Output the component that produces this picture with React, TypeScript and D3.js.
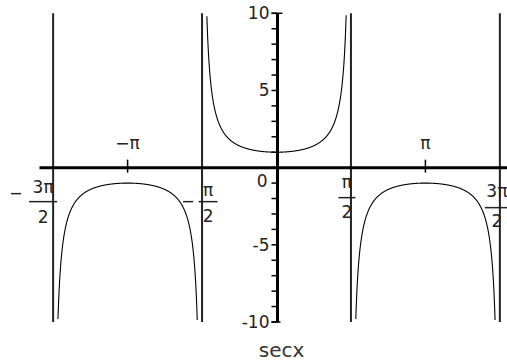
import React from "react";
import * as d3 from "d3";

const W = 507;
const H = 364;
const PI = Math.PI;

// Plot window and the function being drawn
const X_DOMAIN = [-5, 5];
const Y_DOMAIN = [-10, 10];
const FUNCTION_NAME = "secx";
const sec = (t: number) => 1 / Math.cos(t);

// Vertical asymptotes of sec x inside the window
const ASYMPTOTES = [-3 * PI / 2, -PI / 2, PI / 2, 3 * PI / 2];
// Branch intervals between asymptotes that are plotted
const BRANCHES: [number, number][] = [
  [-3 * PI / 2, -PI / 2],
  [-PI / 2, PI / 2],
  [PI / 2, 3 * PI / 2],
];

// y axis ticks and labels
const Y_MINOR_TICKS = d3.range(-10, 11, 1);
const Y_LABELS = [
  { v: 10, text: "10" },
  { v: 5, text: "5" },
  { v: -5, text: "-5" },
  { v: -10, text: "-10" },
];

// x axis: plain ticks at ±π, fraction labels at the asymptotes
const X_TICKS = [-PI, PI];
const X_PLAIN_LABELS = [
  { v: -PI, text: "−π" },
  { v: PI, text: "π" },
];
const X_FRACTION_LABELS = [
  { v: -3 * PI / 2, num: "3π", den: "2", sign: true, dx: -10, num_dy: 25, bar_dy: 34, den_dy: 55, bar_w: 28, sign_dx: -37, sign_dy: 26 },
  { v: -PI / 2, num: "π", den: "2", sign: true, dx: 6, num_dy: 28, bar_dy: 34, den_dy: 54, bar_w: 19, sign_dx: -14, sign_dy: 34 },
  { v: PI / 2, num: "π", den: "2", sign: false, dx: -4, num_dy: 20, bar_dy: 30, den_dy: 50, bar_w: 17, sign_dx: 0, sign_dy: 0 },
  { v: 3 * PI / 2, num: "3π", den: "2", sign: false, dx: -3, num_dy: 29, bar_dy: 40, den_dy: 59, bar_w: 24, sign_dx: 0, sign_dy: 0 },
];

const FONT = "'DejaVu Sans', sans-serif";

export default function App() {
  const x = d3.scaleLinear().domain(X_DOMAIN).range([39.5, 513.5]);
  const y = d3.scaleLinear().domain(Y_DOMAIN).range([322, 13.3]);
  const x0 = x(0) + 1;
  const y0 = y(0);

  const line = d3
    .line<number>()
    .defined((t) => Math.abs(sec(t)) <= 10)
    .x((t) => x(t))
    .y((t) => y(sec(t)));

  const paths = BRANCHES.map(([a, b]) => {
    const eps = 1e-4;
    const ts = d3.range(a + eps, b - eps, 0.002);
    ts.push(b - eps);
    return line(ts) || "";
  });

  return (
    <svg
      width={W}
      height={H}
      style={{ position: "absolute", left: 0, top: 0, background: "#fff" }}
      fontFamily={FONT}
    >
      <rect width={W} height={H} fill="#fff" />
      {/* asymptotes */}
      {ASYMPTOTES.map((a, i) => (
        <line
          key={"as" + i}
          x1={x(a)}
          x2={x(a)}
          y1={y(10)}
          y2={y(-10)}
          stroke="#222"
          strokeWidth={2}
        />
      ))}
      {/* curve */}
      {paths.map((d, i) => (
        <path key={"p" + i} d={d} fill="none" stroke="#000" strokeWidth={1.1} />
      ))}
      {/* x axis */}
      <line x1={x(-5)} x2={W} y1={y0} y2={y0} stroke="#000" strokeWidth={3} />
      {X_TICKS.map((t, i) => (
        <line key={"xt" + i} x1={x(t)} x2={x(t)} y1={y0 - 8} y2={y0 + 5} stroke="#000" strokeWidth={1.5} />
      ))}
      {/* y axis */}
      <line x1={x0} x2={x0} y1={y(10)} y2={y(-10)} stroke="#000" strokeWidth={3} />
      {Y_MINOR_TICKS.map((v) => (
        <line key={"yt" + v} x1={x0 - 6} x2={x0} y1={y(v)} y2={y(v)} stroke="#000" strokeWidth={1.5} />
      ))}
      <line x1={x0 - 6} x2={x0 + 5} y1={y(10)} y2={y(10)} stroke="#000" strokeWidth={1.5} />
      <line x1={x0 - 6} x2={x0 + 3} y1={y(-10)} y2={y(-10)} stroke="#000" strokeWidth={1.5} />
      {/* y labels */}
      {Y_LABELS.map((l) => (
        <text
          key={"yl" + l.v}
          x={x0 - 8}
          y={y(l.v) + 6}
          textAnchor="end"
          fontSize={17}
          fill="#222"
        >
          {l.text}
        </text>
      ))}
      <text x={x0 - 10} y={y0 + 19} textAnchor="end" fontSize={17} fill="#222">
        0
      </text>
      {/* x labels */}
      {X_PLAIN_LABELS.map((l, i) => (
        <text key={"xl" + i} x={x(l.v)} y={y0 - 19} textAnchor="middle" fontSize={17} fill="#222">
          {l.text}
        </text>
      ))}
      {X_FRACTION_LABELS.map((l, i) => {
        const cx = x(l.v) + l.dx;
        return (
          <g key={"xf" + i} fill="#222">
            {l.sign && (
              <line
                x1={x(l.v) + l.sign_dx - 5}
                x2={x(l.v) + l.sign_dx + 5}
                y1={y0 + l.sign_dy}
                y2={y0 + l.sign_dy}
                stroke="#222"
                strokeWidth={1.5}
              />
            )}
            <text x={cx} y={y0 + l.num_dy} textAnchor="middle" fontSize={17}>
              {l.num}
            </text>
            <line
              x1={cx - l.bar_w / 2}
              x2={cx + l.bar_w / 2}
              y1={y0 + l.bar_dy}
              y2={y0 + l.bar_dy}
              stroke="#222"
              strokeWidth={1.5}
            />
            <text x={cx} y={y0 + l.den_dy} textAnchor="middle" fontSize={17}>
              {l.den}
            </text>
          </g>
        );
      })}
      {/* function name */}
      <text x={x0 + 4} y={357} textAnchor="middle" fontSize={20} fill="#333">
        {FUNCTION_NAME}
      </text>
    </svg>
  );
}
